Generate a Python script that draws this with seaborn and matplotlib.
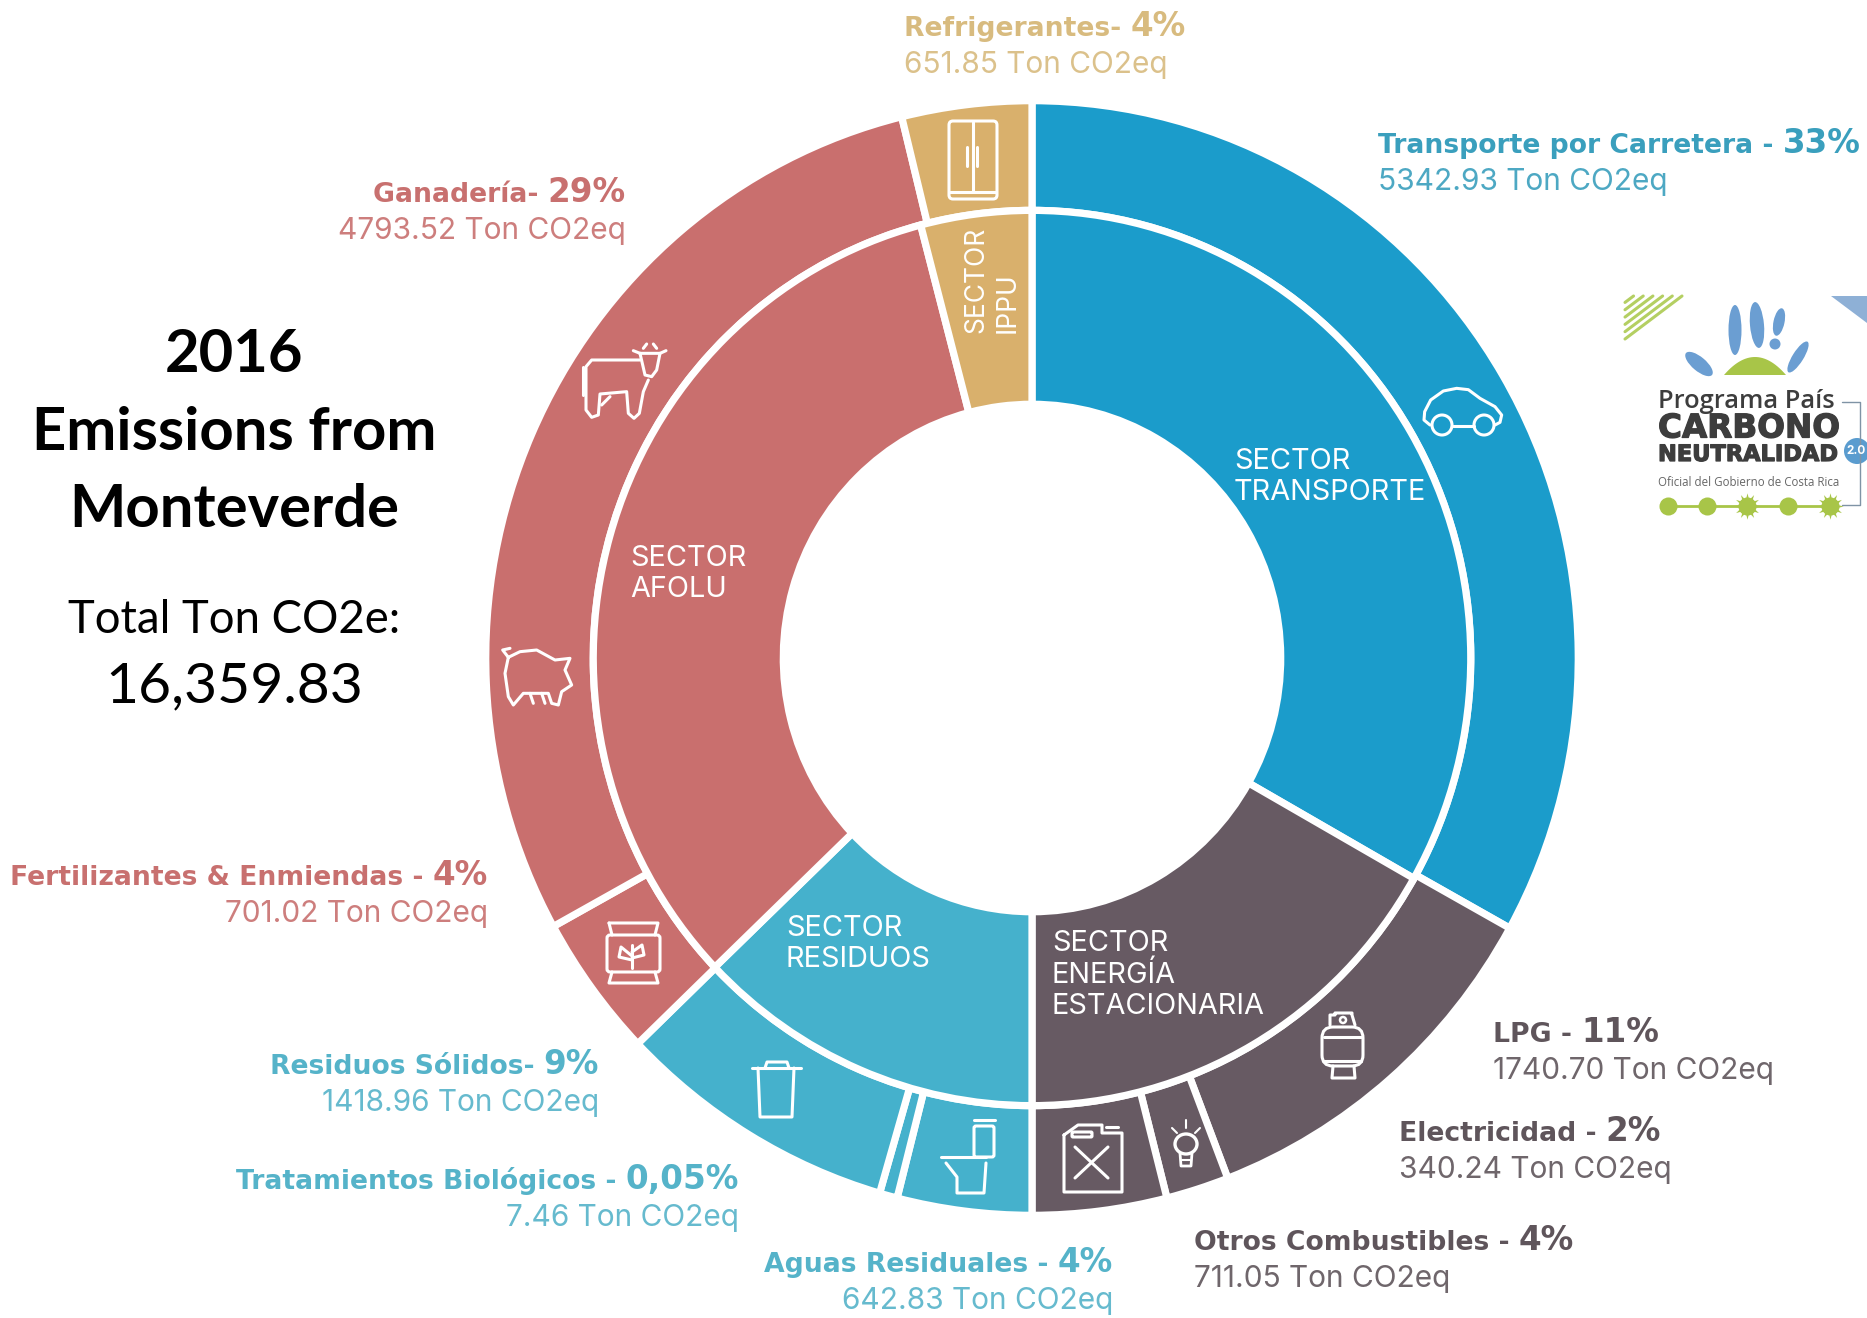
import numpy as np
import matplotlib
matplotlib.use('Agg')
import matplotlib.pyplot as plt
import matplotlib.patheffects as pe
from matplotlib.patches import Circle, Ellipse, FancyBboxPatch, Polygon
import seaborn as sns

W, H = 1867, 1318

# outer ring, clockwise from the top
outer_names = ['Transporte por Carretera', 'LPG', 'Electricidad', 'Otros Combustibles',
               'Aguas Residuales', 'Tratamientos Biológicos', 'Residuos Sólidos',
               'Fertilizantes & Enmiendas', 'Ganadería', 'Refrigerantes']
outer_tons = [5342.93, 1740.70, 340.24, 711.05, 642.83, 7.46, 1418.96, 701.02, 4793.52, 651.85]
outer_pcts = ['33%', '11%', '2%', '4%', '4%', '0,05%', '9%', '4%', '29%', '4%']
outer_seps = [' - ', ' - ', ' - ', ' - ', ' - ', ' - ', '- ', ' - ', '- ', '- ']
# arc sizes, they do not follow the tons exactly
outer_arcs = [119, 40, 6.7, 14.3, 14.3, 1.9, 30, 15, 105, 13.8]

# inner ring, same order
inner_names = ['SECTOR\nTRANSPORTE', 'SECTOR\nENERGÍA\nESTACIONARIA', 'SECTOR\nRESIDUOS',
               'SECTOR\nAFOLU', 'SECTOR\nIPPU']
inner_arcs = [119.5, 60.5, 46.3, 119, 14.7]

blue, dark, teal, red, tan = sns.color_palette(['#1b9ccb', '#675a63', '#45b1cc', '#c96f6e', '#d9b06c'])
outer_colors = [blue, dark, dark, dark, teal, teal, teal, red, red, tan]
inner_colors = [blue, dark, teal, red, tan]

label_colors = ['#3a9fbd'] + ['#5f555b'] * 3 + ['#55b3c9'] * 3 + ['#c8706f'] * 2 + ['#d8bb7f']
label_x = [1378, 1493, 1399, 1194, 1113, 739, 599, 488, 626, 904]
label_y = [153, 1042, 1141, 1250, 1272, 1189, 1074, 885, 202, 36]
label_left = [True, True, True, True, False, False, False, False, False, True]

sns.set_theme(style='white')
plt.rcParams['font.family'] = ['Inter', 'DejaVu Sans']

fig = plt.figure(figsize=(W / 100, H / 100), dpi=100, facecolor='white')

# ring axes covers the ring's box, the ring is slightly taller than wide
cx, cy, rx, ry = 1032, 658, 543, 554
ax = fig.add_axes([(cx - rx) / W, 1 - (cy + ry) / H, 2 * rx / W, 2 * ry / H])
edge = dict(edgecolor='white', linewidth=5.2)
ax.pie(outer_arcs, radius=1.006, colors=outer_colors, startangle=90, counterclock=False,
       wedgeprops=dict(width=0.198, **edge))
ax.pie(inner_arcs, radius=0.808, colors=inner_colors, startangle=90, counterclock=False,
       wedgeprops=dict(width=0.35, **edge))
ax.set_xlim(-1, 1)
ax.set_ylim(-1, 1)
ax.set_aspect('auto')
ax.axis('off')

# overlay in image pixels for text, icons and logo
px = fig.add_axes([0, 0, 1, 1], facecolor='none')
px.set_xlim(0, W)
px.set_ylim(H, 0)
px.axis('off')
renderer = fig.canvas.get_renderer()


def text_width(t):
    return t.get_window_extent(renderer).width


# two line labels, name in bold with a bigger percent
wide = ['DejaVu Sans']
for name, sep, pct, tons, col, x, y, left in zip(outer_names, outer_seps, outer_pcts, outer_tons,
                                                 label_colors, label_x, label_y, label_left):
    t1 = px.text(x, y, name + sep, color=col, fontsize=19.2, fontweight='bold', family=wide,
                 ha='left', va='baseline')
    t2 = px.text(x, y, pct, color=col, fontsize=23.5, fontweight='bold', family=wide, ha='left', va='baseline')
    w1, w2 = text_width(t1), text_width(t2)
    if left:
        t2.set_x(x + w1)
    else:
        t1.set_x(x - w1 - w2)
        t2.set_x(x - w2)
    px.text(x, y + 37, f'{tons:.2f} Ton CO2eq', color=col, fontsize=21.5, alpha=0.9,
            ha='left' if left else 'right', va='baseline')

# sector names
px.text(1234, 477, inner_names[0], color='white', fontsize=20.8, va='center', linespacing=1.2)
px.text(1052, 975, inner_names[1], color='white', fontsize=20.8, va='center', linespacing=1.2)
px.text(786, 944, inner_names[2], color='white', fontsize=20.8, va='center', linespacing=1.2)
px.text(630, 574, inner_names[3], color='white', fontsize=20.8, va='center', linespacing=1.2)
px.text(992, 333, inner_names[4], color='white', fontsize=19, rotation=90, ha='center', va='bottom',
        linespacing=1.25, multialignment='left')

# left block
left_font = ['Lato', 'DejaVu Sans']
for s, y, size, weight in [('2016', 355, 43, 'bold'), ('Emissions from', 433, 43, 'bold'),
                           ('Monteverde', 510, 43, 'bold'), ('Total Ton CO2e:', 620, 32.8, 'normal'),
                           ('16,359.83', 687, 41, 'normal')]:
    px.text(234, y, s, fontsize=size, fontweight=weight, family=left_font, color='black',
            ha='center', va='center')


# icons, drawn in white
def line(pts, lw=2.2, col='white', close=False):
    pts = list(pts)
    if close:
        pts.append(pts[0])
    xs, ys = zip(*pts)
    px.plot(xs, ys, color=col, lw=lw, solid_capstyle='round', solid_joinstyle='round')


def box(x0, y0, x1, y1, r=4, lw=2.2):
    px.add_patch(FancyBboxPatch((x0 + r, y0 + r), x1 - x0 - 2 * r, y1 - y0 - 2 * r,
                                boxstyle=f'round,pad={r}', fc='none', ec='white', lw=lw))


def zoomed(pts, x0, y0, sx=3, sy=3):
    return [(x0 + a / sx, y0 + b / sy) for a, b in pts]


# fridge
box(949, 121, 997, 199)
line([(973, 122), (973, 192)])
line([(950, 192), (996, 192)])
line([(967, 147), (967, 166)])
line([(977, 147), (977, 166)])

# cow
line(zoomed([(480, 120), (335, 120), (318, 140), (318, 270), (335, 292), (355, 285), (360, 222),
             (440, 215), (445, 280), (462, 295), (478, 280), (490, 215), (505, 180)], 480, 320))
line(zoomed([(308, 140), (308, 225)], 480, 320))
line(zoomed([(480, 100), (540, 100), (530, 150), (515, 170), (495, 165), (480, 100)], 480, 320))
line(zoomed([(480, 100), (460, 92)], 480, 320))
line(zoomed([(540, 100), (558, 92)], 480, 320))
line(zoomed([(490, 85), (500, 72)], 480, 320))
line(zoomed([(530, 85), (520, 72)], 480, 320))
line(zoomed([(365, 255), (390, 230)], 480, 320))

# pig
line(zoomed([(85, 1012), (120, 995), (170, 990), (225, 1020), (270, 1015), (255, 1050), (275, 1095),
             (245, 1115), (235, 1155), (215, 1150), (205, 1120), (130, 1120), (100, 1155), (85, 1130),
             (75, 1060), (85, 1012)], 480, 320))
line(zoomed([(85, 1012), (68, 990), (90, 985)], 480, 320))
line(zoomed([(150, 1120), (160, 1150)], 480, 320))
line(zoomed([(185, 1120), (195, 1150)], 480, 320))

# fertilizer bag
box(607, 935, 660, 972, r=3)
line([(609, 923), (658, 923), (655, 935)])
line([(609, 923), (612, 935)])
line([(612, 972), (609, 983), (658, 983), (655, 972)])
line([(632, 968), (632, 945)])
line([(632, 956), (621, 947), (619, 957), (632, 960)])
line([(632, 952), (642, 945), (644, 955), (632, 958)])

# trash bin
line([(752, 1068), (801, 1068)])
line([(765, 1068), (767, 1062), (787, 1062), (789, 1068)])
line([(758, 1068), (760, 1117), (792, 1117), (794, 1068)])

# toilet
box(974, 1126, 994, 1157, r=2)
line([(974, 1120), (995, 1120)])
line([(941, 1157), (986, 1157)])
line([(946, 1163), (957, 1177), (957, 1193), (984, 1193), (986, 1163)])

# jerry can
line([(1064, 1135), (1078, 1125), (1102, 1125), (1102, 1133), (1122, 1133), (1122, 1192), (1064, 1192),
      (1064, 1135)])
line([(1106, 1127), (1118, 1127)])
box(1072, 1132, 1092, 1137, r=1)
line([(1075, 1147), (1108, 1178)])
line([(1108, 1147), (1075, 1178)])

# bulb
px.add_patch(Ellipse((1186, 1144), 22, 20, fc='none', ec='white', lw=2.4))
line([(1180, 1153), (1181, 1166), (1191, 1166), (1192, 1153)], lw=2)
line([(1182, 1160), (1190, 1160)], lw=1.5)
line([(1186, 1120), (1186, 1128)], lw=1.5)
line([(1172, 1128), (1177, 1133)], lw=1.5)
line([(1200, 1128), (1195, 1133)], lw=1.5)

# gas cylinder
box(1322, 1027, 1363, 1066, r=11)
line([(1324, 1037), (1361, 1037)])
line([(1324, 1061), (1361, 1061)])
line([(1330, 1025), (1330, 1015), (1335, 1015), (1335, 1013), (1352, 1013), (1352, 1015), (1355, 1025)])
px.add_patch(Circle((1343, 1020), 3, fc='none', ec='white', lw=1.8))
line([(1333, 1066), (1332, 1078), (1355, 1078), (1354, 1066)])

# car
line(zoomed([(90, 180), (72, 165), (74, 140), (92, 105), (130, 78), (170, 70), (205, 74), (240, 100),
             (285, 125), (305, 150), (300, 172), (285, 180)], 1400, 365))
line(zoomed([(158, 182), (222, 182)], 1400, 365))
px.add_patch(Circle((1442, 425), 10, fc='none', ec='white', lw=2.2))
px.add_patch(Circle((1484, 425), 10, fc='none', ec='white', lw=2.2))

# logo, top right
logo_green = '#a8c548'
logo_blue = '#6b9ed2'
for k in np.arange(0.15, 1.01, 0.17):
    line([(1625, 296 + 43 * k), (1625 + 57 * k, 296)], lw=2.2, col='#b4cf62')
px.add_patch(Polygon([(1831, 296), (1867, 296), (1867, 323)], fc='#8eb0d6', ec='none'))
for xy, a, b, ang in [((1735, 330), 13, 50, 0), ((1757, 325), 14, 46, -5), ((1779, 322), 11, 28, 12),
                      ((1775, 344), 11, 11, 0), ((1798, 357), 11, 36, 32), ((1699, 364), 14, 34, -50)]:
    px.add_patch(Ellipse(xy, a, b, angle=ang, fc=logo_blue, ec='none'))
hill = np.linspace(-1, 1, 30)
px.add_patch(Polygon(np.column_stack([1755 + 31 * hill, 375 - 18 * (1 - hill ** 2)]), fc=logo_green, ec='none'))

logo_col = '#3d3d3d'
heavy = [pe.withStroke(linewidth=0.9, foreground=logo_col)]
px.text(1658, 402, 'Programa País', fontsize=18.4, fontweight='semibold', color=logo_col, va='center',
        family=['Open Sans', 'DejaVu Sans'])
px.text(1658, 428, 'CARBONO', fontsize=23.5, fontweight='bold', color=logo_col, va='center',
        family=['DejaVu Sans'], path_effects=heavy)
px.text(1658, 455, 'NEUTRALIDAD', fontsize=16.2, fontweight='bold', color=logo_col, va='center',
        family=['DejaVu Sans'], path_effects=heavy)
px.text(1658, 482, 'Oficial del Gobierno de Costa Rica', fontsize=8.3, color='#666666', va='center',
        family=['Open Sans', 'DejaVu Sans'])
line([(1668, 506), (1830, 506)], lw=2, col=logo_green)
for x, spiky in zip([1668, 1707, 1747, 1788, 1830], [False, False, True, False, True]):
    px.plot([x], [506], marker='o', ms=13, color=logo_green, mec='none')
    if spiky:
        px.plot([x], [506], marker=(12, 1, 0), ms=19, color=logo_green, mec='none')
line([(1842, 402), (1860, 402), (1860, 505), (1842, 505)], lw=1, col='#7f93a5')
px.add_patch(Circle((1857, 451), 13, fc='#5a9ccf', ec='none'))
px.text(1846, 451, '2.0', color='white', fontsize=8.5, fontweight='bold', va='center')

fig.savefig('out.png', dpi=100, facecolor='white')
